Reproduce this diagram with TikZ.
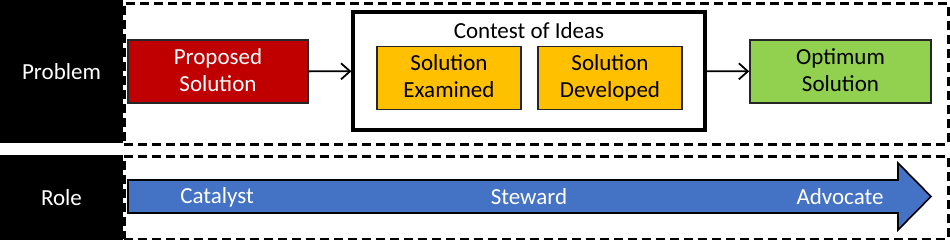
\documentclass[tikz,border=0pt]{standalone}
\usepackage{fontspec}
\setmainfont{Carlito}
\usetikzlibrary{arrows.meta}
\definecolor{solred}{HTML}{C00000}
\definecolor{solgold}{HTML}{FFC000}
\definecolor{solgreen}{HTML}{92D050}
\definecolor{rolblue}{HTML}{4472C4}
\newcommand{\boxfont}{\fontsize{23}{27}\selectfont}
\tikzset{
  side/.style={fill=black,text=white,inner sep=0pt,minimum width=123pt,minimum height=#1,font=\boxfont},
  lane/.style={draw,dashed,dash pattern=on 9pt off 5pt,line width=2.6pt,anchor=north west,inner sep=0pt,minimum width=824pt,minimum height=#1},
  sbox/.style={draw=black!85,line width=1.6pt,inner sep=0pt,align=center,minimum width=#1,minimum height=63pt,font=\boxfont,text height=46pt,text depth=6pt},
  flow/.style={-{Straight Barb[length=9pt,width=16pt]},line width=1.8pt},
}
\begin{document}
\begin{tikzpicture}[x=1pt,y=-1pt]
\useasboundingbox (0,0) rectangle (950,240);
% problem row
\node[side=143pt] (prob) at (61.5,71.5) {Problem};
\node[lane=141pt] (plane) at (123,2) {};
\node[sbox=180pt,fill=solred,text=white] (prop) at (218,71.5) {Proposed\\Solution};
\node[draw,line width=3.2pt,minimum width=352pt,minimum height=118pt,inner sep=0pt] (cont) at (529,71) {};
\node[font=\boxfont] (conttl) at (529,31) {Contest of Ideas};
\node[sbox=144pt,fill=solgold] (exam) at (449,78) {Solution\\Examined};
\node[sbox=144pt,fill=solgold] (devl) at (610,78) {Solution\\Developed};
\node[sbox=181pt,fill=solgreen] (opt) at (840.5,71.5) {Optimum\\Solution};
\draw[flow] (prop) -- (cont);
\draw[flow] (cont) -- (opt);
% role row
\node[side=85pt] (role) at (61.5,197.5) {Role};
\node[lane=83pt] (rlane) at (123,155) {};
\draw[fill=rolblue,line width=1.6pt,line join=miter] (128,180) -- (898,180) -- (898,163) -- (931,196.5) -- (898,230) -- (898,213) -- (128,213) -- cycle;
\node[text=white,font=\boxfont] (cat) at (217,197) {Catalyst};
\node[text=white,font=\boxfont] (stw) at (529,197) {Steward};
\node[text=white,font=\boxfont] (adv) at (840,197) {Advocate};
\end{tikzpicture}
\end{document}
